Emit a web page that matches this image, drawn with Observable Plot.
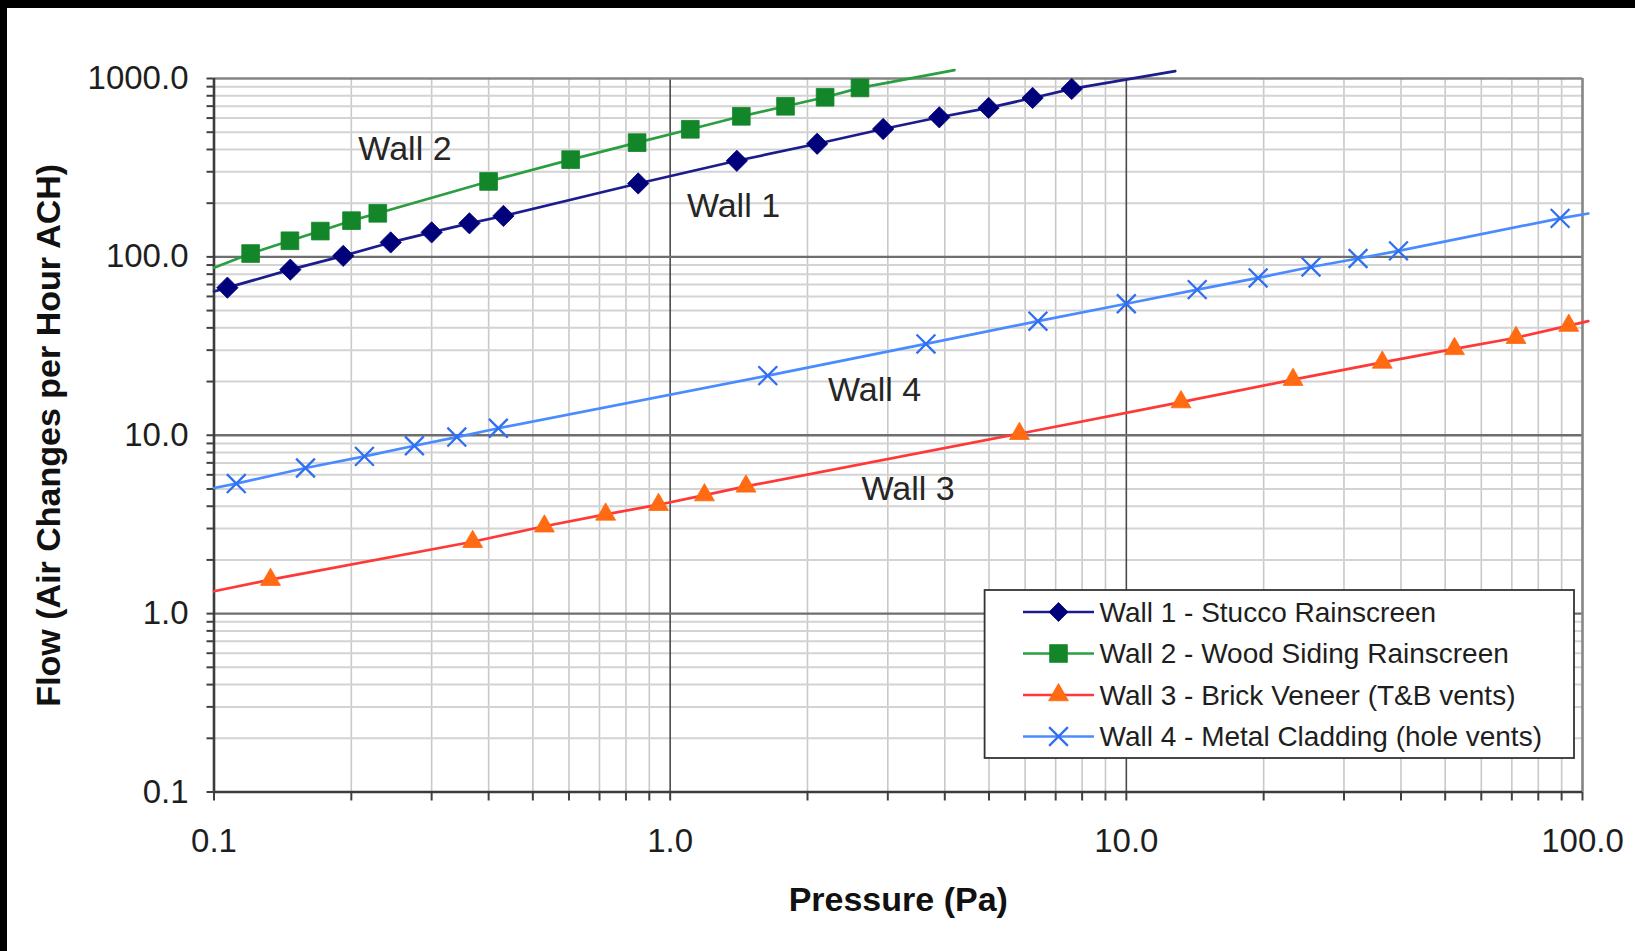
<!DOCTYPE html>
<html><head><meta charset="utf-8">
<script src="https://cdn.jsdelivr.net/npm/d3@7"></script>
<script src="https://cdn.jsdelivr.net/npm/@observablehq/plot@0.6"></script>
<style>
html,body{margin:0;padding:0;background:#000;width:1635px;height:951px;overflow:hidden;}
#chart{position:absolute;left:7px;top:8px;width:1628px;height:943px;background:#fff;}
svg text{font-family:"Liberation Sans",Arial,sans-serif;}
</style></head><body><div id="chart"></div>
<script>
// ---- data ----
const seriesNames = [
  "Wall 1 - Stucco Rainscreen",
  "Wall 2 - Wood Siding Rainscreen",
  "Wall 3 - Brick Veneer (T&B vents)",
  "Wall 4 - Metal Cladding (hole vents)"
];
const wall1X = [0.107, 0.147, 0.192, 0.244, 0.300, 0.363, 0.431, 0.851, 1.40, 2.10, 2.93, 3.89, 4.99, 6.23, 7.59];
const wall1Y = [67.2, 84.8, 101.3, 120.5, 137.2, 154.2, 169.6, 258, 345.6, 430.6, 521, 606, 684, 778, 874];
const wall2X = [0.1203, 0.1467, 0.1710, 0.2002, 0.2286, 0.3999, 0.6051, 0.8463, 1.107, 1.432, 1.790, 2.186, 2.607];
const wall2Y = [104.4, 123.1, 139.5, 159.6, 175.5, 264.8, 350.9, 437, 519, 613.8, 698.6, 785, 886];
const wall3X = [0.133, 0.369, 0.530, 0.722, 0.943, 1.189, 1.466, 5.83, 13.18, 23.2, 36.4, 52.4, 71.5, 93.3];
const wall3Y = [1.55, 2.53, 3.09, 3.60, 4.08, 4.62, 5.17, 10.2, 15.35, 20.5, 25.6, 30.5, 35.2, 41.2];
const wall4X = [0.1119, 0.1587, 0.2137, 0.2750, 0.3406, 0.4201, 1.637, 3.637, 6.40, 10.0, 14.3, 19.45, 25.4, 32.2, 39.5, 89.3];
const wall4Y = [5.36, 6.55, 7.61, 8.73, 9.77, 10.95, 21.6, 32.5, 43.6, 54.6, 65.5, 76.2, 87.8, 97.9, 108.1, 164.4];
// fitted-line ends drawn in the reference (start, end) per wall
const lineStartX = [0.1, 0.1, 0.1, 0.1];
const lineStartY = [64, 87, 1.335, 5.06];
const lineEndX = [12.8, 4.2, 103, 103];
const lineEndY = [1100, 1115, 43.6, 175];
const lineColors = ["#1c1c8c", "#2a9e40", "#ff3838", "#4a8cff"];
const markerColors = ["#00007a", "#13862a", "#ff6a12", "#2f6ff0"];
const markerSymbols = ["diamond2", "square", "triangle", "times"];
const xTickValues = [0.1, 1, 10, 100];
const yTickValues = [0.1, 1, 10, 100, 1000];
const xTitle = "Pressure (Pa)";
const yTitle = "Flow (Air Changes per Hour ACH)";
const annoText = ["Wall 2", "Wall 1", "Wall 4", "Wall 3"];
const annoX = [0.2622, 1.3765, 2.805, 3.324];
const annoY = [399.4, 192.1, 17.91, 4.96];

// ---- build ----
const xs = [wall1X, wall2X, wall3X, wall4X];
const ys = [wall1Y, wall2Y, wall3Y, wall4Y];
const pts = [], lines = [];
xs.forEach((X, s) => {
  X.forEach((x, i) => pts.push({s, x, y: ys[s][i]}));
  lines.push({s, x: lineStartX[s], y: lineStartY[s]});
  X.forEach((x, i) => lines.push({s, x, y: ys[s][i]}));
  lines.push({s, x: lineEndX[s], y: lineEndY[s]});
});
const isMajor = v => Math.abs(Math.log10(v) - Math.round(Math.log10(v))) < 1e-6;
const xAll = d3.scaleLog().domain([0.1, 100]).ticks();
const yAll = d3.scaleLog().domain([0.1, 1000]).ticks();
const xMinor = xAll.filter(v => !isMajor(v));
const yMinor = yAll.filter(v => !isMajor(v));

const W = 1628, H = 943;
const rSizes = [9.6, 10, 7.4, 8.6];
const marks = [
  Plot.ruleX(xMinor, {stroke: "#c9c9c9", strokeWidth: 1.6}),
  Plot.ruleY(yMinor, {stroke: "#d3d3d3", strokeWidth: 2}),
  Plot.ruleX([1, 10], {stroke: "#4a4a4a", strokeWidth: 1.6}),
  Plot.ruleY([1, 10, 100], {stroke: "#6e6e6e", strokeWidth: 2.4}),
  Plot.ruleY([1000], {stroke: "#858585", strokeWidth: 2.6}),
  Plot.ruleX([100], {stroke: "#858585", strokeWidth: 2.6}),
  Plot.axisX(xAll, {tickSize: 9, tickFormat: () => "", stroke: "#404040", strokeWidth: 2, label: null}),
  Plot.axisY(yAll, {tickSize: 7, tickFormat: () => "", stroke: "#404040", strokeWidth: 2, label: null}),
  Plot.ruleX([0.1], {stroke: "#3c3c3c", strokeWidth: 2.6}),
  Plot.ruleY([0.1], {stroke: "#3c3c3c", strokeWidth: 2.6}),
  Plot.axisX(xTickValues, {tickSize: 0, tickPadding: 37, tickFormat: d => d.toFixed(1), fontSize: 33, fill: "#1e1e1e", label: null}),
  Plot.axisY(yTickValues, {tickSize: 0, tickPadding: 25.5, tickFormat: d => d.toFixed(1), fontSize: 33, fill: "#1e1e1e", label: null}),
];
[0, 1, 2, 3].forEach(s => {
  marks.push(Plot.line(lines.filter(d => d.s === s), {x: "x", y: "y", stroke: lineColors[s], strokeWidth: 2.7}));
});
[0, 1, 2, 3].forEach(s => {
  const isX = markerSymbols[s] === "times";
  marks.push(Plot.dot(pts.filter(d => d.s === s), {
    x: "x", y: "y", symbol: markerSymbols[s], r: rSizes[s],
    fill: isX ? "none" : markerColors[s], stroke: markerColors[s], strokeWidth: isX ? 2.3 : 0.8
  }));
});
marks.push(Plot.text(annoText, {x: annoX, y: annoY, text: annoText, fontSize: 34, fill: "#262626", lineAnchor: "middle"}));
marks.push(Plot.text([xTitle], {frameAnchor: "bottom", textAnchor: "middle", lineAnchor: "bottom", dy: 118.5, fontSize: 34, fontWeight: "bold", fill: "#111"}));
marks.push(Plot.text([yTitle], {frameAnchor: "left", textAnchor: "middle", lineAnchor: "bottom", rotate: -90, dx: -154.5, fontSize: 34, fontWeight: "bold", fill: "#111"}));

const chart = Plot.plot({
  width: W, height: H,
  marginLeft: 206.5, marginRight: 53, marginTop: 70, marginBottom: 159.5,
  x: {type: "log", domain: [0.1, 100]},
  y: {type: "log", domain: [0.1, 1000]},
  style: {background: "white", fontFamily: '"Liberation Sans", Arial, sans-serif', overflow: "visible"},
  marks
});
document.getElementById("chart").appendChild(chart);

// ---- legend box ----
const svg = d3.select(chart);
const lg = svg.append("g").attr("text-anchor", "start");
const bx = 977.6, by = 582, bw = 589.4, bh = 168;
lg.append("rect").attr("x", bx).attr("y", by).attr("width", bw).attr("height", bh)
  .attr("fill", "#fff").attr("stroke", "#333").attr("stroke-width", 1.8);
const rowY = [604, 645.5, 687, 728.5];
const d3Sym = {diamond2: d3.symbolDiamond2, square: d3.symbolSquare, triangle: d3.symbolTriangle, times: d3.symbolTimes};
seriesNames.forEach((name, s) => {
  const yy = rowY[s];
  lg.append("line").attr("x1", 1016).attr("x2", 1087).attr("y1", yy).attr("y2", yy)
    .attr("stroke", lineColors[s]).attr("stroke-width", 2.6);
  const isX = markerSymbols[s] === "times";
  const rr = s === 0 ? 8.6 : rSizes[s];
  lg.append("path").attr("d", d3.symbol(d3Sym[markerSymbols[s]], Math.PI * rr * rr)())
    .attr("transform", `translate(1051.5,${yy})`)
    .attr("fill", isX ? "none" : markerColors[s]).attr("stroke", markerColors[s])
    .attr("stroke-width", isX ? 2.3 : 0.8);
  lg.append("text").attr("x", 1092.5).attr("y", yy).attr("dy", "0.35em")
    .attr("text-anchor", "start")
    .attr("font-size", 28).attr("fill", "#1e1e1e").text(name);
});
</script></body></html>
